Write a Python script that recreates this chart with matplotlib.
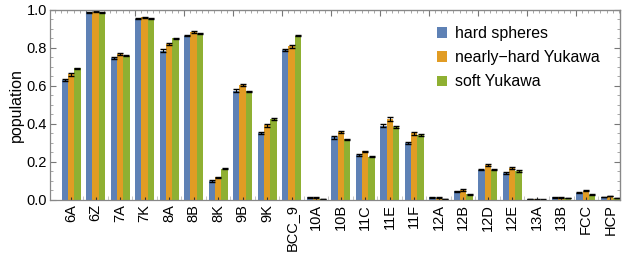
import numpy as np
import matplotlib
matplotlib.use("Agg")
import matplotlib.pyplot as plt
from matplotlib.patches import Patch
from matplotlib.ticker import MultipleLocator, FixedLocator, FormatStrFormatter

plt.rcParams['font.family'] = ['Liberation Sans', 'DejaVu Sans']

# data
clusters = ['6A', '6Z', '7A', '7K', '8A', '8B', '8K', '9B', '9K', 'BCC_9',
            '10A', '10B', '11C', '11E', '11F', '12A', '12B', '12D', '12E',
            '13A', '13B', 'FCC', 'HCP']
series = ['hard spheres', 'nearly\u2212hard Yukawa', 'soft Yukawa']

hard = [0.632, 0.988, 0.748, 0.954, 0.785, 0.865, 0.100, 0.575, 0.353, 0.790,
        0.013, 0.330, 0.237, 0.390, 0.300, 0.013, 0.045, 0.160, 0.143,
        0.004, 0.013, 0.037, 0.015]
nearly = [0.662, 0.992, 0.770, 0.962, 0.820, 0.884, 0.120, 0.605, 0.392, 0.810,
          0.011, 0.356, 0.256, 0.427, 0.350, 0.011, 0.052, 0.185, 0.168,
          0.003, 0.014, 0.049, 0.021]
soft = [0.692, 0.987, 0.760, 0.955, 0.851, 0.875, 0.164, 0.572, 0.425, 0.865,
        0.005, 0.320, 0.228, 0.385, 0.342, 0.006, 0.030, 0.160, 0.152,
        0.002, 0.010, 0.027, 0.011]

hard_err = [0.007, 0.003, 0.004, 0.003, 0.007, 0.004, 0.003, 0.008, 0.004, 0.007,
            0.002, 0.008, 0.007, 0.008, 0.005, 0.002, 0.003, 0.003, 0.004,
            0.001, 0.002, 0.003, 0.002]
nearly_err = [0.008, 0.003, 0.006, 0.003, 0.004, 0.006, 0.003, 0.007, 0.009, 0.008,
              0.002, 0.006, 0.004, 0.009, 0.006, 0.002, 0.003, 0.004, 0.004,
              0.001, 0.002, 0.003, 0.002]
soft_err = [0.004, 0.003, 0.003, 0.003, 0.004, 0.003, 0.003, 0.004, 0.006, 0.003,
            0.001, 0.003, 0.003, 0.004, 0.003, 0.001, 0.002, 0.003, 0.003,
            0.001, 0.001, 0.002, 0.001]

colors = ['#5E81B5', '#E19C24', '#8FB032']

fig = plt.figure(figsize=(6.23, 2.56), dpi=100)
ax = fig.add_axes([0.0803, 0.219, 0.915, 0.742])

x = np.arange(len(clusters))
w = 0.26
for i, (vals, errs) in enumerate(zip([hard, nearly, soft], [hard_err, nearly_err, soft_err])):
    ax.bar(x + (i - 1) * w, vals, w, color=colors[i], edgecolor='none',
           yerr=errs, ecolor='black', capsize=2.2,
           error_kw=dict(elinewidth=0.8, capthick=1.0))

ax.set_xlim(-0.86, 22.4)
ax.set_ylim(0, 1.0)
ax.set_ylabel('population', fontsize=11.5, labelpad=2)

ax.set_xticks(x)
ax.set_xticklabels(clusters, rotation=90, fontsize=10.5)
ax.xaxis.set_minor_locator(FixedLocator(x[:-1] + 0.5))
ax.tick_params(axis='x', which='major', direction='in', length=2, color='#333333', pad=3)
ax.tick_params(axis='x', which='minor', direction='in', length=3, color='#bbbbbb')

ax.yaxis.set_major_locator(MultipleLocator(0.2))
ax.yaxis.set_minor_locator(MultipleLocator(0.05))
ax.yaxis.set_major_formatter(FormatStrFormatter('%.1f'))
ax.tick_params(axis='y', which='major', direction='in', length=4, color='#777777',
               pad=2, labelsize=10.5)
ax.tick_params(axis='y', which='minor', direction='in', length=2, color='#999999')

# mirrored frame ticks on top and right
top = ax.secondary_xaxis('top')
top.xaxis.set_major_locator(FixedLocator(np.arange(0.6, 23, 2)))
top.xaxis.set_minor_locator(FixedLocator(np.arange(-0.65, 23, 0.25)))
top.tick_params(which='major', direction='in', length=4, color='#777777', labeltop=False)
top.tick_params(which='minor', direction='in', length=2, color='#999999')
top.spines['top'].set_color('#888888')

right = ax.secondary_yaxis('right')
right.yaxis.set_major_locator(MultipleLocator(0.2))
right.yaxis.set_minor_locator(MultipleLocator(0.05))
right.tick_params(which='major', direction='in', length=4, color='#777777', labelright=False)
right.tick_params(which='minor', direction='in', length=2, color='#999999')
right.spines['right'].set_color('#888888')

for s in ax.spines.values():
    s.set_color('#888888')
    s.set_linewidth(0.9)

handles = [Patch(facecolor=c, edgecolor='none') for c in colors]
ax.legend(handles, series, loc='upper left', bbox_to_anchor=(0.678, 0.915),
          frameon=False, fontsize=11.4, handlelength=0.65, handleheight=0.65,
          handletextpad=0.5, labelspacing=0.58, borderpad=0, borderaxespad=0)

fig.savefig('out.png', dpi=100)
